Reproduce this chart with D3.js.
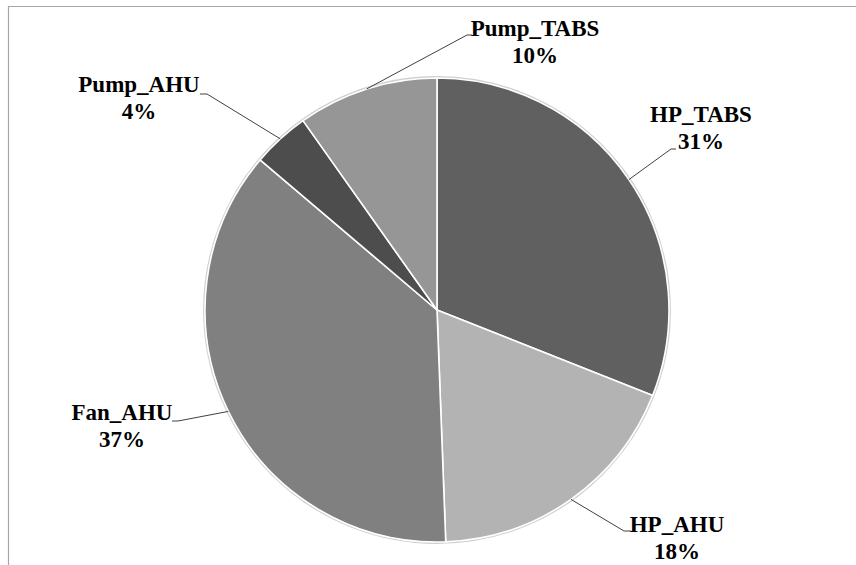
<!DOCTYPE html>
<html><head><meta charset="utf-8"><script src="https://cdn.jsdelivr.net/npm/d3@7"></script></head>
<body style="margin:0">
<svg id="chart" width="856" height="565"></svg>
<script>
// ---- data ----
const categories = ["HP_TABS", "HP_AHU", "Fan_AHU", "Pump_AHU", "Pump_TABS"];
const shares = [31.0, 18.4, 36.8, 4.0, 9.8];          // percent of total
const percentLabels = ["31%", "18%", "37%", "4%", "10%"];

// ---- styles / layout ----
const colors = ["#606060", "#b3b3b3", "#808080", "#4d4d4d", "#969696"];
// label layout: centre x, first baseline y, leader attach point (ax, ay) and elbow x (bx)
const labelLayout = [
  { x: 701, y: 122, ax: 676, ay: 149, bx: 671 },
  { x: 677, y: 532, ax: 631, ay: 531, bx: 624 },
  { x: 122, y: 420, ax: 172, ay: 421, bx: 178 },
  { x: 139, y: 92,  ax: 200, ay: 94,  bx: 207 },
  { x: 535, y: 36,  ax: 472, ay: 35,  bx: 467 }
];
const W = 856, H = 565;
const cx = 437, cy = 310, R = 232;
const lineGap = 26.5;

const svg = d3.select("#chart");

// frame
svg.append("path")
  .attr("d", `M8.5,${H + 5} L8.5,6.5 L${W + 5},6.5`)
  .attr("fill", "none").attr("stroke", "#a6a6a6").attr("stroke-width", 1.2);

const data = categories.map((c, i) => ({ name: c, value: shares[i], pct: percentLabels[i], i }));
const arcs = d3.pie().sort(null).value(d => d.value)(data);
const arc = d3.arc().innerRadius(0).outerRadius(R);
const g = svg.append("g").attr("transform", `translate(${cx},${cy})`);

// soft edge shadow
g.append("circle").attr("r", R + 0.8)
  .attr("fill", "none").attr("stroke", "#cfcfcf").attr("stroke-width", 2.2);

g.selectAll("path.slice").data(arcs).join("path")
  .attr("class", "slice").attr("d", arc)
  .attr("fill", d => colors[d.data.i])
  .attr("stroke", "#ffffff").attr("stroke-width", 1.6).attr("stroke-linejoin", "round");

// leader lines
arcs.forEach(a => {
  const L = labelLayout[a.data.i];
  const c = (a.startAngle + a.endAngle) / 2;
  svg.append("path")
    .attr("d", d3.line()([[L.ax, L.ay], [L.bx, L.ay], [cx + R * Math.sin(c), cy - R * Math.cos(c)]]))
    .attr("fill", "none").attr("stroke", "#404040").attr("stroke-width", 1);
});

// labels
arcs.forEach(a => {
  const L = labelLayout[a.data.i];
  [a.data.name, a.data.pct].forEach((s, k) => {
    svg.append("text").attr("x", L.x).attr("y", L.y + k * lineGap)
      .style("font-family", "Liberation Serif")
      .style("font-size", "23px").style("font-weight", "bold")
      .style("text-anchor", "middle")
      .attr("fill", "#000")
      .text(s);
  });
});
</script></body></html>
